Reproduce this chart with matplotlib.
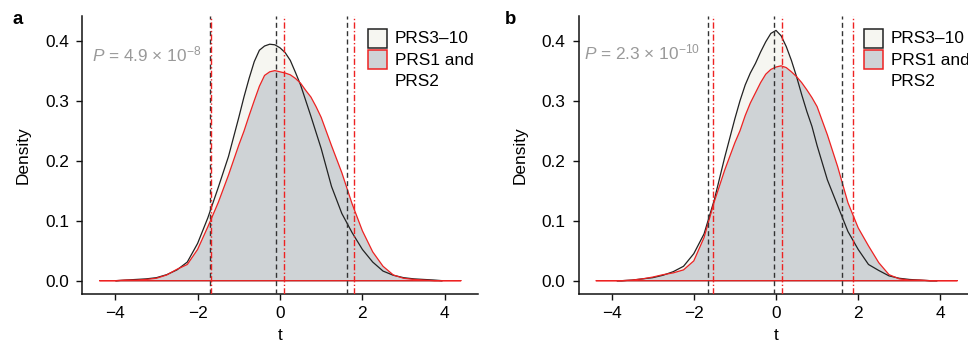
import matplotlib
matplotlib.use("Agg")
import matplotlib.pyplot as plt
from matplotlib.patches import Rectangle

plt.rcParams['font.family'] = ['Liberation Sans', 'DejaVu Sans']
plt.rcParams['mathtext.fontset'] = 'custom'
plt.rcParams['mathtext.rm'] = 'Liberation Sans'
plt.rcParams['mathtext.it'] = 'Liberation Sans:italic'

# ---------------- data ----------------
t_grid = [-4.0, -3.75, -3.5, -3.25, -3.0, -2.75, -2.5, -2.25, -2.0, -1.75, -1.5, -1.25, -1.0,
          -0.875, -0.75, -0.625, -0.5, -0.375, -0.25, -0.125, 0.0, 0.125, 0.25, 0.375, 0.5,
          0.625, 0.75, 0.875,
          1.0, 1.25, 1.5, 1.75, 2.0, 2.25, 2.5, 2.75, 3.0, 3.25, 3.5, 3.75, 4.0]

# panel a
a_black = [0.000, 0.001, 0.002, 0.003, 0.005, 0.010, 0.018, 0.031, 0.062, 0.105, 0.155, 0.207, 0.272,
           0.306, 0.337, 0.365, 0.384, 0.391, 0.394, 0.393, 0.388, 0.380, 0.367, 0.347, 0.326,
           0.300, 0.274, 0.247,
           0.220, 0.157, 0.112, 0.080, 0.052, 0.031, 0.016, 0.009, 0.005, 0.003, 0.002, 0.001, 0.000]
a_red = [0.000, 0.001, 0.001, 0.002, 0.004, 0.0095, 0.019, 0.027, 0.052, 0.090, 0.130, 0.176, 0.226,
         0.249, 0.275, 0.300, 0.324, 0.342, 0.348, 0.350, 0.348, 0.346, 0.343, 0.337, 0.329,
         0.317, 0.306, 0.290,
         0.272, 0.225, 0.180, 0.128, 0.083, 0.048, 0.024, 0.0095, 0.004, 0.002, 0.001, 0.000, 0.000]
# panel b
b_black = [0.000, 0.000, 0.001, 0.003, 0.005, 0.009, 0.015, 0.024, 0.045, 0.078, 0.135, 0.205, 0.270,
           0.300, 0.326, 0.346, 0.362, 0.381, 0.398, 0.412, 0.417, 0.408, 0.390, 0.367, 0.340,
           0.310, 0.282, 0.257,
           0.225, 0.168, 0.125, 0.082, 0.052, 0.027, 0.017, 0.008, 0.004, 0.002, 0.001, 0.000, 0.000]
b_red = [0.000, 0.000, 0.001, 0.003, 0.006, 0.010, 0.013, 0.018, 0.033, 0.072, 0.132, 0.184, 0.230,
         0.250, 0.275, 0.296, 0.313, 0.330, 0.344, 0.352, 0.356, 0.358, 0.355, 0.348, 0.340,
         0.330, 0.318, 0.305,
         0.290, 0.243, 0.190, 0.130, 0.088, 0.058, 0.030, 0.010, 0.003, 0.001, 0.001, 0.000, 0.000]

# extent of each density estimate
a_black_range = [-3.98, 3.94]
a_red_range = [-4.37, 4.39]
b_black_range = [-3.86, 3.92]
b_red_range = [-4.37, 4.41]

# vertical reference lines (PRS3-10 dashed, PRS1/2 dot-dash)
a_black_vlines = [-1.70, -0.10, 1.63]
a_red_vlines = [-1.67, 0.09, 1.79]
b_black_vlines = [-1.65, -0.06, 1.61]
b_red_vlines = [-1.54, 0.14, 1.87]

p_texts = [r'$P$ = 4.9 × 10$^{−8}$', r'$P$ = 2.3 × 10$^{−10}$']
legend_labels = ['PRS3–10', 'PRS1 and\nPRS2']
panel_letters = ['a', 'b']
x_ticks = [-4, -2, 0, 2, 4]
y_ticks = [0.0, 0.1, 0.2, 0.3, 0.4]

# ---------------- style ----------------
W, H = 968, 343
BLACK_FILL = '#f6f6f1'
GREY_FILL = '#cfd3d6'
RED = '#ee2222'
DARK = '#222222'
FS = 12.4

fig = plt.figure(figsize=(W / 100, H / 100), dpi=100)


def fx(px):
    return px / W


def fy(py):
    return 1 - py / H


def make_curve(rng, vals):
    t = [rng[0]] + [v for v in t_grid if rng[0] < v < rng[1]] + [rng[1]]
    d = [0.0] + [vals[i] for i, v in enumerate(t_grid) if rng[0] < v < rng[1]] + [0.0]
    return t, d


def panel(left_px, right_px, black, red, brange, rrange, bvl, rvl, ptext, pt_xy,
          leg_x, letter, letter_xy):
    top_px, bot_px = 16, 294
    ax = fig.add_axes([fx(left_px), fy(bot_px), fx(right_px - left_px), (bot_px - top_px) / H])
    ax.set_xlim(-4.8, 4.8)
    ax.set_ylim(-0.0222, 0.441)
    tb, db = make_curve(brange, black)
    tr, dr = make_curve(rrange, red)
    ax.fill(tb, db, facecolor=BLACK_FILL, edgecolor='none', zorder=1)
    ax.fill(tr, dr, facecolor=GREY_FILL, edgecolor='none', zorder=2)
    ax.plot(tb + [tb[0]], db + [db[0]], color=DARK, lw=0.9, zorder=3)
    ax.plot(tr + [tr[0]], dr + [dr[0]], color=RED, lw=0.9, zorder=4)
    for v in bvl:
        ax.axvline(v, color='#333333', lw=1.0, dashes=(3.6, 2.4), zorder=5)
    for v in rvl:
        ax.axvline(v, color=RED, lw=1.0, dashes=(4.5, 1.6, 1.0, 1.6), zorder=6)
    for s in ['top', 'right']:
        ax.spines[s].set_visible(False)
    for s in ['left', 'bottom']:
        ax.spines[s].set_linewidth(1.1)
        ax.spines[s].set_color('#111111')
    ax.set_xticks(x_ticks)
    ax.set_xticklabels([str(v).replace('-', '−') for v in x_ticks])
    ax.set_yticks(y_ticks)
    ax.set_yticklabels([f'{v:.1f}' for v in y_ticks])
    ax.tick_params(axis='both', length=4.5, width=1.0, labelsize=FS, color='#111111')
    ax.tick_params(axis='x', pad=4.5)
    ax.tick_params(axis='y', pad=5)
    ax.set_xlabel('t', fontsize=FS, labelpad=4.5)
    ax.set_ylabel('Density', fontsize=FS, labelpad=10)
    fig.text(fx(pt_xy[0]), fy(pt_xy[1]), ptext, color='#999999', fontsize=FS,
             ha='left', va='center')
    # legend
    sz = 19
    fig.add_artist(Rectangle((fx(leg_x), fy(29 + sz)), fx(sz), sz / H,
                             facecolor=BLACK_FILL, edgecolor=DARK, lw=1.1))
    fig.add_artist(Rectangle((fx(leg_x), fy(50 + sz)), fx(sz), sz / H,
                             facecolor=GREY_FILL, edgecolor=RED, lw=1.1))
    fig.text(fx(leg_x + 27), fy(38.5), legend_labels[0], fontsize=FS, ha='left', va='center')
    fig.text(fx(leg_x + 27), fy(71), legend_labels[1], fontsize=FS, ha='left', va='center',
             linespacing=1.42)
    fig.text(fx(letter_xy[0]), fy(letter_xy[1]), letter, fontsize=FS + 1, fontweight='bold',
             ha='center', va='center')
    return ax


panel(82.2, 477.8, a_black, a_red, a_black_range, a_red_range, a_black_vlines, a_red_vlines,
      p_texts[0], (92.5, 54), 367.7, panel_letters[0], (18, 20))
panel(578.7, 973.3, b_black, b_red, b_black_range, b_red_range, b_black_vlines, b_red_vlines,
      p_texts[1], (584.5, 52), 864.0, panel_letters[1], (511, 19))

fig.savefig('out.png', dpi=100)
